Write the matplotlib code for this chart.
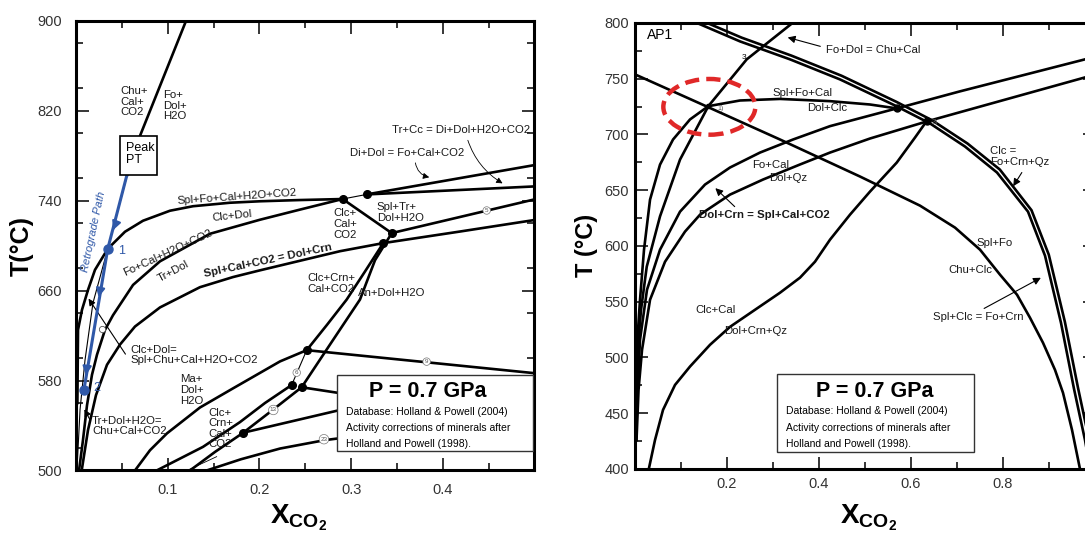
import matplotlib
matplotlib.use('Agg')
import matplotlib.pyplot as plt
from matplotlib.patches import Rectangle, Ellipse
from matplotlib.ticker import MultipleLocator
import matplotlib.transforms as mtransforms

plt.rcParams['font.family'] = ['Liberation Sans', 'DejaVu Sans']
plt.rcParams['mathtext.fontset'] = 'custom'
plt.rcParams['mathtext.bf'] = 'Liberation Sans:bold'
plt.rcParams['mathtext.rm'] = 'Liberation Sans'

# ---------------- left panel data (X_CO2, T) ----------------
chu_x = [0.124, 0.070, 0.056, 0.0346, 0.0185, 0.0098, 0.0044, 0.001]
chu_T = [908, 798, 763, 697, 649, 598, 554, 500]
retro_x = [0.0556, 0.0346, 0.0087]
retro_T = [763, 697, 572]
spl_fo_x = [0.0015, 0.0022, 0.0065, 0.0131, 0.0207, 0.0346, 0.0534, 0.0731, 0.1025, 0.1276, 0.1679, 0.2007, 0.2443, 0.2908]
spl_fo_T = [560, 625, 642.8, 660.6, 678.4, 697.1, 712.3, 722.1, 731, 735, 738.1, 739.4, 740.5, 741.4]
clc_dol_x = [0.0033, 0.0076, 0.012, 0.0174, 0.0229, 0.0316, 0.0403, 0.0622, 0.0916, 0.1461, 0.2007, 0.2443, 0.2908]
clc_dol_T = [500, 527, 558, 585, 603, 625, 638, 665, 686, 710.5, 723, 732, 741.4]
dol_crn_x = [0.0062, 0.0131, 0.0218, 0.0338, 0.048, 0.0643, 0.0916, 0.1352, 0.1712, 0.2007, 0.2443, 0.2879, 0.3351, 0.4188, 0.51]
dol_crn_T = [500, 536, 567, 594, 612, 628, 645, 663, 672, 678, 686.5, 695, 702.2, 712.5, 724]
ma_dol_x = [0.0643, 0.0807, 0.0992, 0.1352, 0.1712, 0.2225, 0.2516, 0.2737, 0.2952, 0.3152, 0.3351]
ma_dol_T = [500, 518, 533, 556, 573, 597, 607, 629.5, 652, 677, 702.2]
an_dol_x = [0.1243, 0.1516, 0.1824, 0.2148, 0.2461, 0.277, 0.3097, 0.3261, 0.3443]
an_dol_T = [500, 516.5, 533.6, 554, 574, 612, 652, 687, 711]
clc_crn_x = [0.088, 0.1385, 0.1788, 0.2061, 0.2352]
clc_crn_T = [500, 521, 543, 560, 576]
r6_x, r6_T = [0.2352, 0.2516], [576, 607]
r9_x, r9_T = [0.2516, 0.51], [607, 585.7]
rbox1_x, rbox1_T = [0.2461, 0.31], [574, 566]
rbox2_x, rbox2_T = [0.1824, 0.31], [533.6, 558]
r23_x = [0.1425, 0.18, 0.2225, 0.2715, 0.31]
r23_T = [500, 510, 519.5, 527, 531]
link_thin_x, link_thin_T = [0.2908, 0.317], [741.4, 745.5]
link_x, link_T = [0.2908, 0.3443], [741.4, 711.1]
di_dol_x, di_dol_T = [0.317, 0.51], [745.5, 773]
tr_cc_x, tr_cc_T = [0.317, 0.51], [745.5, 753]
r5_x, r5_T = [0.3443, 0.51], [711.1, 743]
inv_x = [0.2908, 0.317, 0.3443, 0.3351, 0.2516, 0.2352, 0.2461, 0.1824]
inv_T = [741.4, 745.5, 711.1, 702.2, 607.2, 576.1, 574, 533.6]
circ_x = [0.4479, 0.3824, 0.2407, 0.2152, 0.2704]
circ_T = [731.2, 596.8, 587, 553.8, 527.8]
circ_lab = ['5', '9', '6', '13', '23']

# ---------------- right panel data ----------------
r_spl_fo_x = [0.0007, 0.142, 0.3159, 0.4898, 0.6202, 0.6963, 0.7507, 0.7941, 0.8311, 0.8594, 0.8876, 0.9137, 0.9311, 0.9507, 0.969]
r_spl_fo_T = [753.9, 727.8, 695.5, 662.3, 636.2, 616.5, 596.7, 574.3, 556.3, 535.6, 513.2, 488.9, 468.3, 435, 398]
r_dol_clc_x = [0.0017, 0.0039, 0.0072, 0.0115, 0.0202, 0.0333, 0.055, 0.0833, 0.1202, 0.16, 0.2289, 0.3159, 0.4246, 0.5115, 0.5696]
r_dol_clc_T = [426, 479.9, 524.8, 551.8, 596.7, 641.6, 673, 695.5, 713.5, 725.4, 730.5, 731.9, 729.9, 726.9, 723.4]
r_fo_dol_x = [0.0028, 0.005, 0.0083, 0.0137, 0.0261, 0.055, 0.0985, 0.16, 0.2435, 0.3448, 0.3702]
r_fo_dol_T = [426, 479.9, 515.9, 542.8, 581.4, 626.6, 677.5, 725.4, 767.4, 800.6, 816.8]
r_qz1_x = [0.0028, 0.0061, 0.0115, 0.0267, 0.055, 0.0985, 0.1528, 0.2072, 0.2724, 0.3441, 0.4246, 0.5696, 0.7063, 0.9789, 1.0]
r_qz1_T = [426, 471, 515.9, 560.8, 596.7, 630.8, 655.1, 670.4, 683.8, 695.5, 707.5, 723.4, 738.6, 767.4, 769.6]
r_qz2_x = [0.0039, 0.0083, 0.0159, 0.0333, 0.0659, 0.1093, 0.142, 0.2072, 0.2789, 0.3593, 0.4246, 0.5115, 0.6348, 0.9789, 1.0]
r_qz2_T = [426, 471, 506.9, 551.8, 585.9, 612.9, 628.1, 646.1, 659.6, 673.1, 683.8, 696.4, 711.7, 751.2, 753.5]
r_clc_cal_x = [0.028, 0.0441, 0.0615, 0.0876, 0.1202, 0.1637, 0.2072, 0.2615, 0.3159, 0.3593, 0.3919, 0.4246, 0.468, 0.5115, 0.5696, 0.6094, 0.6348]
r_clc_cal_T = [395, 426, 453, 475.4, 491.9, 511.4, 527.5, 542.8, 558.1, 571.6, 585.9, 605.7, 628.1, 648.8, 674.8, 697.3, 712.1]
r_dbl_in_x = [0.0659, 0.2289, 0.3376, 0.4463, 0.5659, 0.642, 0.718, 0.7876, 0.855, 0.892, 0.9267, 0.955, 0.9789, 0.9941]
r_dbl_in_T = [812.3, 783.5, 767.4, 749.4, 726, 709.9, 689.2, 665.9, 630.8, 591.3, 531.1, 471.9, 426, 390.1]
r_dbl_out_x = [0.0691, 0.2322, 0.3409, 0.4496, 0.5693, 0.6463, 0.7235, 0.7937, 0.8626, 0.9002, 0.9352, 0.9637, 0.9876, 1.0028]
r_dbl_out_T = [815.6, 786.9, 770.7, 752.7, 729.2, 712.8, 691.9, 668.6, 632.1, 592.2, 531.9, 472.8, 426.6, 390.6]
r_inv_x = [0.5696, 0.6348]
r_inv_T = [723.4, 712]

fig = plt.figure(figsize=(10.85, 5.33), dpi=100)
ax1 = fig.add_axes([0.07005, 0.1173, 0.42255, 0.8439])
ax2 = fig.add_axes([0.585, 0.12008, 0.42394, 0.83677])

thick = 1.9
thin = 0.8
lab = dict(fontsize=8.2, color='#1a1a1a')
ls = 1.1

# ======== left panel ========
ax = ax1
ax.plot(chu_x[:3], chu_T[:3], color='k', lw=thick)
ax.plot(chu_x[2:], chu_T[2:], color='k', lw=thin)
for xs, ts in [(spl_fo_x, spl_fo_T), (clc_dol_x, clc_dol_T), (dol_crn_x, dol_crn_T),
               (ma_dol_x, ma_dol_T), (an_dol_x, an_dol_T), (clc_crn_x, clc_crn_T),
               (r9_x, r9_T), (rbox1_x, rbox1_T), (rbox2_x, rbox2_T), (r23_x, r23_T),
               (link_x, link_T), (di_dol_x, di_dol_T), (tr_cc_x, tr_cc_T), (r5_x, r5_T)]:
    ax.plot(xs, ts, color='k', lw=thick)
ax.plot(r6_x, r6_T, color='k', lw=thin)
ax.plot(link_thin_x, link_thin_T, color='k', lw=thin)
ax.plot(inv_x, inv_T, 'o', color='k', ms=5.5, zorder=4)
for cx, ct, cl in zip(circ_x, circ_T, circ_lab):
    ax.text(cx, ct, cl, fontsize=4.5, ha='center', va='center', color='#555',
            bbox=dict(boxstyle='circle,pad=0.2', fc='white', ec='#777', lw=0.5), zorder=4)

# retrograde path
blue = '#2f58a8'
ax.plot(retro_x, retro_T, color=blue, lw=2.2, zorder=5)
for (x0, t0), (x1, t1) in [((0.0425, 718), (0.0393, 711.4)), ((0.0262, 660), (0.024, 651.7)),
                           ((0.0118, 591), (0.0104, 582.3))]:
    ax.annotate('', xy=(x1, t1), xytext=(x0, t0),
                arrowprops=dict(arrowstyle='-|>', color=blue, lw=1.5, mutation_scale=13), zorder=5)
ax.plot([retro_x[1], retro_x[2]], [retro_T[1], retro_T[2]], 'o', color=blue, ms=6.5, zorder=6)
ax.text(0.046, 695, '1', color=blue, fontsize=9, va='center')
ax.text(0.0185, 573, '2', color=blue, fontsize=9, va='center')
ax.text(0.0196, 712, 'Retrograde Path', color=blue, fontsize=8, rotation=78,
        ha='center', va='center', style='italic')

ax.add_patch(Rectangle((0.048, 763), 0.0403, 34.7, fc='white', ec='k', lw=1.2, zorder=5))
ax.text(0.0545, 781.5, 'Peak\nPT', fontsize=9, va='center', ha='left', linespacing=1.05, zorder=6)

ax.text(0.048, 828, 'Chu+\nCal+\nCO2', va='center', ha='left', linespacing=ls, **lab)
ax.text(0.0949, 824.4, 'Fo+\nDol+\nH2O', va='center', ha='left', linespacing=ls, **lab)
ax.text(0.1756, 743.5, 'Spl+Fo+Cal+H2O+CO2', rotation=4, ha='center', va='center', **lab)
ax.text(0.1701, 726.5, 'Clc+Dol', rotation=6, ha='center', va='center', **lab)
ax.text(0.1003, 694, 'Fo+Cal+H2O+CO2', rotation=25, ha='center', va='center', **lab)
ax.text(0.1058, 677.5, 'Tr+Dol', rotation=28, ha='center', va='center', **lab)
ax.text(0.2094, 686.5, 'Spl+Cal+CO2 = Dol+Crn', rotation=12, ha='center', va='center',
        fontweight='bold', fontsize=8.2, color='#1a1a1a')
ax.text(0.0589, 602.3, 'Clc+Dol=\nSpl+Chu+Cal+H2O+CO2', ha='left', va='center', linespacing=1.0, **lab)
ax.text(0.1134, 571.6, 'Ma+\nDol+\nH2O', ha='left', va='center', linespacing=ls, **lab)
ax.text(0.0174, 539.2, 'Tr+Dol+H2O=\nChu+Cal+CO2', ha='left', va='center', linespacing=1.0, **lab)
ax.text(0.1439, 537.4, 'Clc+\nCrn+\nCal+\nCO2', ha='left', va='center', linespacing=1.05, **lab)
ax.text(0.2803, 719, 'Clc+\nCal+\nCO2', ha='left', va='center', linespacing=ls, **lab)
ax.text(0.3282, 729.6, 'Spl+Tr+\nDol+H2O', ha='left', va='center', linespacing=ls, **lab)
ax.text(0.2519, 666.4, 'Clc+Crn+\nCal+CO2', ha='left', va='center', linespacing=ls, **lab)
ax.text(0.3075, 658, 'An+Dol+H2O', ha='left', va='center', **lab)
ax.text(0.3446, 803, 'Tr+Cc = Di+Dol+H2O+CO2', ha='left', va='center', **lab)
ax.text(0.2988, 782.6, 'Di+Dol = Fo+Cal+CO2', ha='left', va='center', **lab)
ax.annotate('', xy=(0.3882, 760.3), xytext=(0.3697, 776),
            arrowprops=dict(arrowstyle='-|>', lw=0.6, color='k', mutation_scale=9,
                            connectionstyle='arc3,rad=0.4'))
ax.annotate('', xy=(0.4678, 754.1), xytext=(0.4264, 796),
            arrowprops=dict(arrowstyle='-|>', lw=0.6, color='k', mutation_scale=9,
                            connectionstyle='arc3,rad=0.2'))
ax.annotate('', xy=(0.012, 654.9), xytext=(0.0556, 601.4),
            arrowprops=dict(arrowstyle='-|>', lw=0.8, color='k', mutation_scale=10))
ax.plot([0.028], [626], 'o', ms=4.5, mfc='white', mec='#555', mew=0.6, zorder=4)
ax.annotate('', xy=(0.0076, 556.5), xytext=(0.0174, 541.9),
            arrowprops=dict(arrowstyle='-|>', lw=0.8, color='k', mutation_scale=10))
ax.plot([0.1221, 0.1534], [500.4, 512.3], color='k', lw=0.6)

ax.add_patch(Rectangle((0.2843, 517.6), 0.2144, 67.4, fc='white', ec='#333', lw=1.0, zorder=7))
ax.text(0.3839, 570.1, 'P = 0.7 GPa', fontsize=15.5, fontweight='bold', ha='center', va='center', zorder=8)
ax.text(0.2944, 552.3, 'Database: Holland & Powell (2004)', fontsize=7.5, ha='left', va='center', zorder=8)
ax.text(0.2944, 537.8, 'Activity corrections of minerals after', fontsize=7.5, ha='left', va='center', zorder=8)
ax.text(0.2944, 523.6, 'Holland and Powell (1998).', fontsize=7.5, ha='left', va='center', zorder=8)

ax.set_xlim(0, 0.5)
ax.set_ylim(500, 900)
ax.set_xticks([0.1, 0.2, 0.3, 0.4])
ax.set_xticklabels(['0.1', '0.2', '0.3', '0.4'])
ax.xaxis.set_minor_locator(MultipleLocator(0.05))
ax.set_yticks([500, 580, 660, 740, 820, 900])
ax.yaxis.set_minor_locator(MultipleLocator(40))
ax.tick_params(axis='x', pad=9)
ax.tick_params(axis='y', pad=10)
shift = mtransforms.ScaledTranslation(-0.09, 0, fig.dpi_scale_trans)
for t in ax.xaxis.get_major_ticks():
    t.label1.set_transform(t.label1.get_transform() + shift)

# ======== right panel ========
ax = ax2
for xs, ts in [(r_spl_fo_x, r_spl_fo_T), (r_dol_clc_x, r_dol_clc_T), (r_fo_dol_x, r_fo_dol_T),
               (r_qz1_x, r_qz1_T), (r_qz2_x, r_qz2_T), (r_clc_cal_x, r_clc_cal_T),
               (r_dbl_in_x, r_dbl_in_T), (r_dbl_out_x, r_dbl_out_T)]:
    ax.plot(xs, ts, color='k', lw=thick)
ax.plot(r_inv_x, r_inv_T, 'o', color='k', ms=5, zorder=4)
ax.plot([0.16], [725.4], 'o', color='k', ms=3, zorder=4)
ax.text(0.18, 723, '1)', fontsize=5, color='#555', va='center')
ax.text(0.645, 711, '3)', fontsize=5, color='#555', va='center')
ax.text(0.237, 769, '3', fontsize=6, color='k', ha='center', va='center')
ax.add_patch(Ellipse((0.1622, 724.8), 0.2, 50, fill=False, ec='#e02828', lw=3.2,
                     ls=(0, (3.2, 1.6)), zorder=6))

ax.text(0.026, 789.2, 'AP1', fontsize=10, ha='left', va='center')
ax.text(0.4159, 775.8, 'Fo+Dol = Chu+Cal', ha='left', va='center', **lab)
ax.annotate('', xy=(0.3267, 787.7), xytext=(0.4093, 778.4),
            arrowprops=dict(arrowstyle='-|>', lw=0.8, color='k', mutation_scale=11))
ax.text(0.3637, 737.1, 'Spl+Fo+Cal', ha='center', va='center', **lab)
ax.text(0.4181, 723.6, 'Dol+Clc', ha='center', va='center', **lab)
ax.text(0.2963, 672.5, 'Fo+Cal', ha='center', va='center', **lab)
ax.text(0.3333, 660.8, 'Dol+Qz', ha='center', va='center', **lab)
ax.text(0.2811, 627.6, 'Dol+Crn = Spl+Cal+CO2', ha='center', va='center', fontweight='bold',
        fontsize=8.2, color='#1a1a1a')
ax.annotate('', xy=(0.1709, 653.6), xytext=(0.2217, 633.6),
            arrowprops=dict(arrowstyle='-|>', lw=0.8, color='k', mutation_scale=11))
ax.text(0.7724, 680.2, 'Clc =\nFo+Crn+Qz', ha='left', va='center', linespacing=ls, **lab)
ax.annotate('', xy=(0.8196, 651.5), xytext=(0.8448, 668),
            arrowprops=dict(arrowstyle='-|>', lw=0.8, color='k', mutation_scale=11))
ax.text(0.7833, 603, 'Spl+Fo', ha='center', va='center', **lab)
ax.text(0.7289, 578.8, 'Chu+Clc', ha='center', va='center', **lab)
ax.text(0.7463, 536.5, 'Spl+Clc = Fo+Crn', ha='center', va='center', **lab)
ax.annotate('', xy=(0.8883, 572.7), xytext=(0.7543, 542.8),
            arrowprops=dict(arrowstyle='-|>', lw=0.8, color='k', mutation_scale=11))
ax.text(0.1746, 542.8, 'Clc+Cal', ha='center', va='center', **lab)
ax.text(0.2637, 524, 'Dol+Crn+Qz', ha='center', va='center', **lab)

ax.add_patch(Rectangle((0.3087, 415.5), 0.4289, 69.6, fc='white', ec='#333', lw=1.0, zorder=7))
ax.text(0.5224, 469.2, 'P = 0.7 GPa', fontsize=15.5, fontweight='bold', ha='center', va='center', zorder=8)
ax.text(0.3289, 452.1, 'Database: Holland & Powell (2004)', fontsize=7.5, ha='left', va='center', zorder=8)
ax.text(0.3289, 436.8, 'Activity corrections of minerals after', fontsize=7.5, ha='left', va='center', zorder=8)
ax.text(0.3289, 422.5, 'Holland and Powell (1998).', fontsize=7.5, ha='left', va='center', zorder=8)

ax.set_xlim(0, 1)
ax.set_ylim(400, 800)
ax.set_xticks([0.2, 0.4, 0.6, 0.8, 1.0])
ax.set_xticklabels(['0.2', '0.4', '0.6', '0.8', ''])
ax.xaxis.set_minor_locator(MultipleLocator(0.1))
ax.set_yticks([400, 450, 500, 550, 600, 650, 700, 750, 800])
ax.yaxis.set_minor_locator(MultipleLocator(25))
ax.tick_params(axis='x', pad=6)
ax.tick_params(axis='y', pad=4)

for a in (ax1, ax2):
    for s in a.spines.values():
        s.set_linewidth(2.2)
    a.tick_params(which='both', direction='in', top=True, right=True,
                  labelsize=10.5, labelcolor='#333', width=1.1)
    a.tick_params(which='major', length=9)
    a.tick_params(which='minor', length=5)

fig.text(22 / 1085, 1 - 246 / 533, 'T(°C)', rotation=90, fontsize=18, fontweight='bold',
         ha='center', va='center')
fig.text(587 / 1085, 1 - 245 / 533, 'T (°C)', rotation=90, fontsize=17, fontweight='bold',
         ha='center', va='center')
fig.text(270 / 1085, 1 - 523 / 533, r'$\mathbf{X_{CO_2}}$', fontsize=20, ha='left', va='baseline')
fig.text(840 / 1085, 1 - 523 / 533, r'$\mathbf{X_{CO_2}}$', fontsize=20, ha='left', va='baseline')

fig.savefig('out.png', dpi=100)
